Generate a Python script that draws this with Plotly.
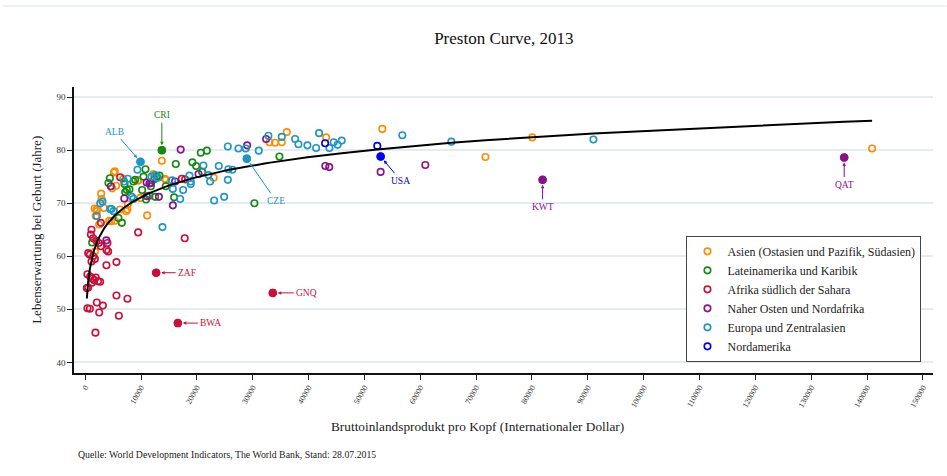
import numpy as np
import plotly.graph_objects as go

# Regions (legend order) and colours
regions = [
    "Asien (Ostasien und Pazifik, Südasien)",
    "Lateinamerika und Karibik",
    "Afrika südlich der Sahara",
    "Naher Osten und Nordafrika",
    "Europa und Zentralasien",
    "Nordamerika",
]
colors = ["#FF8C00", "#138A13", "#C8103A", "#8A1090", "#1E96C4", "#0000F0"]

# GDP per capita (PPP, int. $) and life expectancy, by region
asia_gdp = [36100, 35200, 33000, 43140, 53200, 80060, 71660, 140900, 13730, 14260,
            14440, 12170, 11100, 9430, 9840, 7640, 7340, 6260, 7570, 6800,
            5550, 4830, 5130, 5300, 4300, 5300, 4650, 2860, 2920, 1700,
            2020, 2100, 3350, 1740, 1900, 2500, 9490, 23000, 34000]
asia_le = [83.4, 81.5, 81.5, 82.4, 84.0, 82.4, 78.7, 80.3, 78.0, 74.6,
           74.4, 75.5, 67.7, 74.3, 71.0, 69.8, 68.5, 68.8, 68.8, 74.6,
           73.3, 72.8, 75.8, 76.0, 66.7, 66.7, 66.6, 71.8, 70.8, 69.0,
           68.8, 68.5, 69.1, 60.9, 67.6, 66.0, 74.3, 74.8, 81.4]

latam_gdp = [13730, 10800, 4420, 4170, 7040, 7460, 7930, 7160, 8640, 8950,
             10440, 12350, 11760, 12830, 13300, 16230, 19200, 19870, 20700, 21790,
             20940, 15930, 12530, 30300, 34780, 6570, 5960, 14440, 10200, 10900,
             11500, 1250]
latam_le = [80.0, 76.4, 74.7, 73.8, 73.6, 72.5, 72.6, 72.1, 74.1, 74.4,
            75.0, 74.5, 73.2, 75.0, 75.2, 77.4, 77.7, 77.0, 79.5, 79.9,
            75.9, 71.1, 71.2, 70.0, 78.8, 66.3, 67.2, 73.2, 72.5, 70.7,
            71.4, 62.6]

africa_gdp = [12710, 16590, 33590, 6260, 17300, 17900, 9490, 17830, 2810, 1130,
              1020, 1430, 2020, 2450, 2810, 3990, 3810, 4120, 540, 840,
              1430, 1740, 1130, 5600, 3810, 400, 900, 1300, 1600, 1900,
              2300, 540, 300, 5600, 7570, 2090, 3170, 2510, 410, 840,
              6030, 1840, 1200, 2680]
africa_le = [56.9, 47.4, 53.1, 74.9, 74.6, 74.5, 64.5, 63.4, 66.3, 65.0,
             64.1, 63.4, 62.9, 62.5, 61.9, 62.5, 61.2, 60.9, 60.6, 60.3,
             60.0, 59.5, 59.0, 58.9, 58.3, 56.6, 56.2, 55.8, 55.5, 56.0,
             55.3, 54.1, 54.0, 52.6, 52.0, 51.3, 50.7, 49.4, 50.2, 50.1,
             48.8, 45.6, 55.0, 55.2]

mena_gdp = [17100, 29000, 32400, 4600, 11000, 11500, 11800, 11040, 13200, 15700,
            7000, 20300, 16100, 3800, 43000, 43700, 52900, 60900, 81900, 135900]
mena_le = [80.1, 80.9, 82.1, 73.2, 73.9, 73.7, 73.8, 71.3, 71.2, 69.6,
           70.9, 75.5, 74.1, 63.0, 77.0, 76.8, 75.9, 77.2, 74.4, 78.6]

europe_gdp = [9900, 28940, 9360, 7640, 6980, 8360, 8650, 3100, 2700, 2090,
              4480, 5070, 4700, 13840, 15700, 17000, 17540, 18900, 18900, 21170,
              22070, 23090, 24880, 22370, 23920, 25650, 26360, 25540, 25540, 27440,
              28760, 31090, 32810, 35200, 37590, 38180, 39790, 41350, 41880, 43730,
              44500, 45200, 45930, 56790, 65560, 91000, 11870, 12500, 13000, 15570,
              18670]
europe_le = [77.8, 78.4, 76.3, 74.6, 74.1, 71.2, 70.8, 70.3, 70.0, 67.6,
             68.9, 68.5, 68.9, 65.5, 72.7, 70.8, 72.5, 74.1, 73.6, 77.1,
             75.3, 70.5, 71.2, 74.1, 77.0, 76.4, 76.3, 74.4, 80.7, 80.3,
             80.3, 79.9, 82.7, 82.5, 82.1, 81.1, 80.9, 80.4, 83.2, 80.4,
             81.5, 81.0, 81.8, 82.8, 81.6, 82.0, 75.0, 75.3, 74.8, 74.3,
             75.2]

namerica_gdp = [42960, 52300, 52900]
namerica_le = [81.3, 80.8, 78.8]

region_gdp = [asia_gdp, latam_gdp, africa_gdp, mena_gdp, europe_gdp, namerica_gdp]
region_le = [asia_le, latam_le, africa_le, mena_le, europe_le, namerica_le]

# Highlighted countries: code, region index, gdp, life expectancy
hl_codes = ["CRI", "ALB", "CZE", "ZAF", "GNQ", "BWA", "USA", "KWT", "QAT"]
hl_region = [1, 4, 4, 2, 2, 2, 5, 3, 3]
hl_gdp = [13730, 9900, 28940, 12710, 33590, 16590, 52900, 81900, 135900]
hl_le = [80.0, 77.8, 78.4, 56.9, 53.1, 47.4, 78.8, 74.4, 78.6]
# label offsets (pixels) from the point to its text
hl_ax = [0, -26, 29, 31, 34, 33, 20, 0, 0]
hl_ay = [-35, -30, 42, 0, 0, 0, 24, 27, 27]

SERIF = "Liberation Serif, Times New Roman, serif"

fig = go.Figure()

for name, col, gx, ly in zip(regions, colors, region_gdp, region_le):
    fig.add_trace(go.Scatter(
        x=gx, y=ly, mode="markers", name=name,
        marker=dict(symbol="circle-open", size=6.5, color=col,
                    line=dict(width=1.6, color=col)),
    ))

# Preston curve: life expectancy regressed on log GDP per capita
all_gdp = np.concatenate([np.array(g, float) for g in region_gdp])
all_le = np.concatenate([np.array(v, float) for v in region_le])
slope, intercept = np.polyfit(np.log(all_gdp), all_le, 1)
xfit = np.sort(all_gdp)
fig.add_trace(go.Scatter(x=xfit, y=intercept + slope * np.log(xfit), mode="lines",
                         line=dict(color="black", width=2), showlegend=False,
                         hoverinfo="skip"))

# Filled markers for labelled countries
for code, r, gx, ly, ax, ay in zip(hl_codes, hl_region, hl_gdp, hl_le, hl_ax, hl_ay):
    col = colors[r]
    fig.add_trace(go.Scatter(x=[gx], y=[ly], mode="markers", showlegend=False,
                             marker=dict(symbol="circle", size=8.5, color=col)))
    fig.add_annotation(x=gx, y=ly, text=code, ax=ax, ay=ay,
                       showarrow=True, arrowhead=2, arrowsize=0.7, arrowwidth=1,
                       arrowcolor=col, standoff=5, startstandoff=1,
                       font=dict(family=SERIF, size=9.5, color=col))

# Axis titles and source note
fig.add_annotation(text="Bruttoinlandsprodukt pro Kopf (Internationaler Dollar)",
                   xref="paper", yref="paper", x=0.470, y=-0.1876,
                   xanchor="center", yanchor="middle",
                   showarrow=False, font=dict(family=SERIF, size=13.3, color="#222"))
fig.add_annotation(text="Lebenserwartung bei Geburt (Jahre)", textangle=-90,
                   xref="paper", yref="paper", x=-0.0431, y=0.5005,
                   xanchor="center", yanchor="middle",
                   showarrow=False, font=dict(family=SERIF, size=13, color="#222"))
fig.add_annotation(text="Quelle: World Development Indicators, The World Bank, Stand: 28.07.2015",
                   xref="paper", yref="paper", x=0.0023, y=-0.2854,
                   xanchor="left", yanchor="middle", showarrow=False,
                   font=dict(family=SERIF, size=9.8, color="#222"))

# Thin rule across the top of the page
fig.add_shape(type="line", xref="paper", yref="paper", x0=-0.083, x1=1.016,
              y0=1.283, y1=1.283, line=dict(color="#E6ECEC", width=1.5))

xticks = list(range(0, 150001, 10000))
yticks = [40, 50, 60, 70, 80, 90]

fig.update_layout(
    width=947, height=476,
    margin=dict(l=74, r=14, t=87, b=103),
    paper_bgcolor="white", plot_bgcolor="white",
    title=dict(text="Preston Curve, 2013", x=0.532, xanchor="center",
               y=0.92, yanchor="middle",
               font=dict(family=SERIF, size=17, color="#111")),
    font=dict(family=SERIF, color="#222"),
    xaxis=dict(range=[-2000, 151800], tickvals=xticks, tickformat="d",
               tickangle=-60, ticks="outside", ticklen=5, tickcolor="#222",
               tickfont=dict(family=SERIF, size=8, color="#333"),
               showline=True, linecolor="#111", linewidth=1.5,
               showgrid=False, zeroline=False),
    yaxis=dict(range=[38, 91.9], tickvals=yticks, ticks="outside", ticklen=5,
               tickcolor="#222", tickfont=dict(family=SERIF, size=9, color="#333"),
               showline=True, linecolor="#111", linewidth=1.5,
               showgrid=True, gridcolor="#E4ECF0", gridwidth=1.5,
               zeroline=False),
    legend=dict(x=0.713, y=0.4796, xanchor="left", yanchor="top",
                bgcolor="white", bordercolor="#444", borderwidth=1,
                font=dict(family=SERIF, size=12, color="#222"),
                tracegroupgap=0, itemwidth=30),
    showlegend=True,
)

fig.write_html("out.html")
